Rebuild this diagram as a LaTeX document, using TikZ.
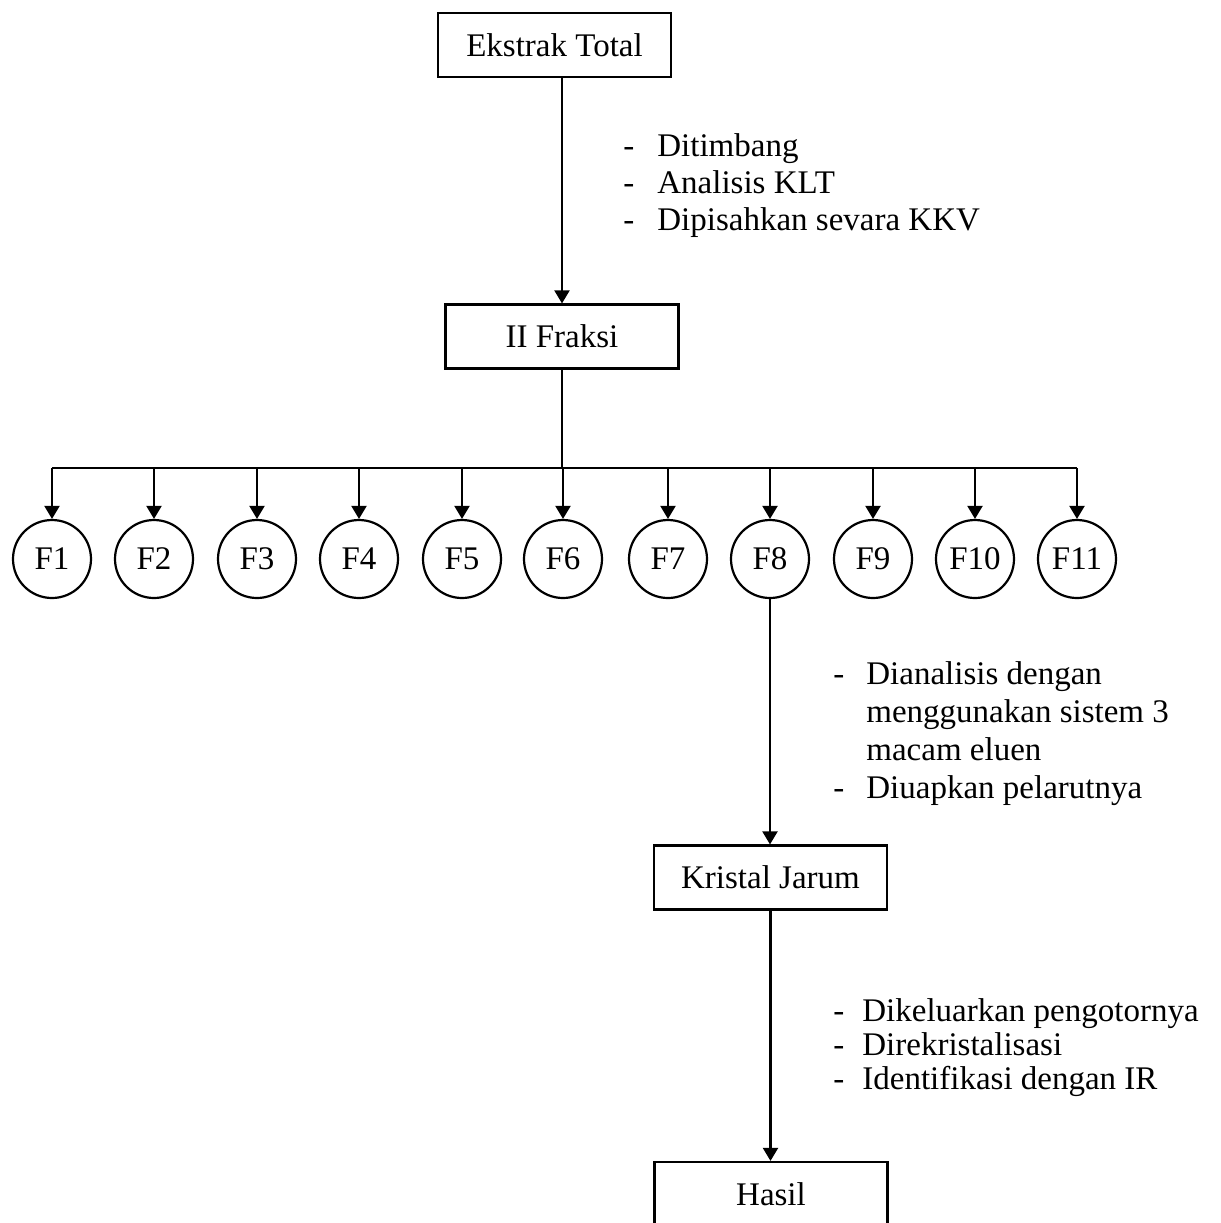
\documentclass[tikz,border=0pt]{standalone}
\usepackage{fontspec}
\setmainfont{Liberation Serif}
\usetikzlibrary{arrows.meta}
\begin{document}
\begin{tikzpicture}[x=0.5pt,y=-0.5pt,
  txt/.style={font=\fontsize{16.5}{19}\selectfont},
  box/.style={txt,draw,line width=1.1pt,minimum width=116.5pt,minimum height=32pt,inner sep=0pt},
  frac/.style={txt,draw,circle,line width=1.1pt,minimum size=39pt,inner sep=0pt},
  lbl/.style={txt,anchor=base west,inner sep=0pt},
  conn/.style={line width=1.1pt},
  arr/.style={conn,-{Triangle[length=6.5pt,width=7.5pt]}}]
\useasboundingbox (0,0) rectangle (1221,1223);
\clip (0,0) rectangle (1221,1223);
% boxes
\node[box] (et) at (554.5,45) {Ekstrak Total};
\node[box] (ii) at (562,336.5) {II Fraksi};
\node[box] (kj) at (770.5,877.5) {Kristal Jarum};
\node[box] (ha) at (771,1194) {Hasil};
% fractions
\node[frac] (f1) at (52,559) {F1};
\node[frac] (f2) at (154,559) {F2};
\node[frac] (f3) at (257,559) {F3};
\node[frac] (f4) at (359,559) {F4};
\node[frac] (f5) at (462,559) {F5};
\node[frac] (f6) at (563,559) {F6};
\node[frac] (f7) at (668,559) {F7};
\node[frac] (f8) at (770,559) {F8};
\node[frac] (f9) at (873,559) {F9};
\node[frac] (f10) at (975,559) {F10};
\node[frac] (f11) at (1077,559) {F11};
% connectors
\draw[arr] (et.south -| ii.north) -- (ii.north);
\coordinate (bar) at (562,468);
\draw[conn] (ii.south) -- (bar);
\draw[conn] (bar -| f1) -- (bar -| f11);
\foreach \i in {1,...,11} \draw[arr] (bar -| f\i) -- (f\i.north);
\draw[arr] (f8.south) -- (f8.south |- kj.north);
\draw[arr] (kj.south) -- (kj.south |- ha.north);
% annotations
\node[lbl] (a1) at (623,156) {\makebox[17pt][l]{-}Ditimbang};
\node[lbl] (a2) at (623,193) {\makebox[17pt][l]{-}Analisis KLT};
\node[lbl] (a3) at (623,230) {\makebox[17pt][l]{-}Dipisahkan sevara KKV};
\node[lbl] (b1) at (833,684) {\makebox[16.5pt][l]{-}Dianalisis dengan};
\node[lbl] (b2) at (833,722) {\makebox[16.5pt][l]{}menggunakan sistem 3};
\node[lbl] (b3) at (833,760) {\makebox[16.5pt][l]{}macam eluen};
\node[lbl] (b4) at (833,798) {\makebox[16.5pt][l]{-}Diuapkan pelarutnya};
\node[lbl] (c1) at (833,1021) {\makebox[14.5pt][l]{-}Dikeluarkan pengotornya};
\node[lbl] (c2) at (833,1055) {\makebox[14.5pt][l]{-}Direkristalisasi};
\node[lbl] (c3) at (833,1089) {\makebox[14.5pt][l]{-}Identifikasi dengan IR};
\end{tikzpicture}
\end{document}
